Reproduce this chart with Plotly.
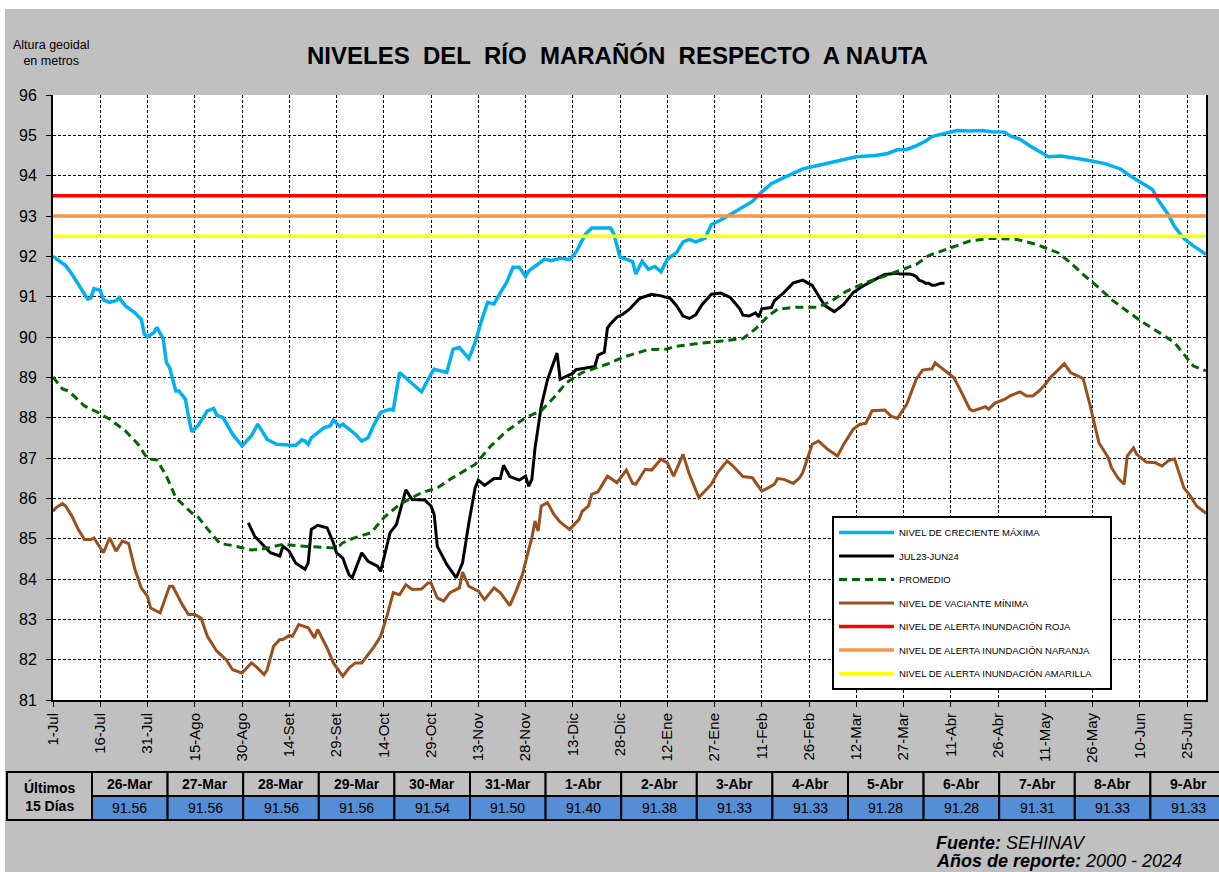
import plotly.graph_objects as go

# ---------------- DATA ----------------
# x = days since 1-Jul-2023 (day 0) ; y = altura geoidal (m)
etiquetas_x = ["1-Jul", "16-Jul", "31-Jul", "15-Ago", "30-Ago", "14-Set", "29-Set", "14-Oct",
               "29-Oct", "13-Nov", "28-Nov", "13-Dic", "28-Dic", "12-Ene", "27-Ene", "11-Feb",
               "26-Feb", "12-Mar", "27-Mar", "11-Abr", "26-Abr", "11-May", "26-May", "10-Jun", "25-Jun"]
posiciones_x = [15 * i for i in range(len(etiquetas_x))]

dias_max = [0, 4, 6, 9, 11, 12, 13, 15, 16, 18, 20, 21, 23, 26, 28, 29, 30, 32, 33, 35, 36, 37, 39, 40,
            42, 43, 44, 46, 47, 49, 51, 52, 54, 57, 60, 63, 65, 68, 71, 77, 79, 80, 81, 82, 86, 88, 89,
            91, 92, 94, 96, 98, 100, 102, 104, 107, 108, 110, 113, 117, 120, 121, 125, 127, 129, 132,
            134, 136, 138, 140, 142, 144, 146, 148, 150, 151, 154, 156, 158, 161, 164, 166, 167, 169,
            171, 177, 178, 180, 184, 185, 187, 189, 191, 193, 195, 198, 200, 202, 204, 207, 209, 212,
            215, 218, 222, 225, 228, 232, 235, 238, 242, 247, 250, 255, 261, 265, 268, 271, 274, 277,
            279, 283, 287, 291, 295, 298, 302, 304, 307, 310, 313, 316, 320, 324, 328, 334, 339, 342,
            345, 349, 351, 354, 356, 359, 362, 366]
nivel_max = [92.00, 91.77, 91.56, 91.19, 90.94, 90.97, 91.20, 91.16, 90.92, 90.86, 90.90, 90.97, 90.77,
             90.60, 90.44, 90.07, 90.00, 90.11, 90.24, 89.95, 89.37, 89.24, 88.66, 88.66, 88.46, 88.04,
             87.65, 87.80, 87.92, 88.17, 88.23, 88.06, 88.00, 87.59, 87.30, 87.55, 87.84, 87.46, 87.34,
             87.31, 87.45, 87.42, 87.34, 87.50, 87.75, 87.80, 87.94, 87.78, 87.84, 87.71, 87.59, 87.42,
             87.50, 87.84, 88.13, 88.21, 88.19, 89.12, 88.91, 88.64, 89.08, 89.20, 89.12, 89.70, 89.74,
             89.47, 89.86, 90.40, 90.86, 90.82, 91.10, 91.35, 91.73, 91.73, 91.50, 91.64, 91.81, 91.93,
             91.89, 91.95, 91.92, 92.10, 92.25, 92.55, 92.70, 92.70, 92.56, 91.98, 91.87, 91.56, 91.88,
             91.68, 91.75, 91.62, 91.93, 92.10, 92.36, 92.42, 92.36, 92.45, 92.79, 92.90, 93.04, 93.18,
             93.36, 93.60, 93.80, 93.95, 94.06, 94.17, 94.24, 94.32, 94.39, 94.47, 94.50, 94.55, 94.64,
             94.65, 94.74, 94.86, 94.97, 95.05, 95.12, 95.11, 95.12, 95.09, 95.08, 94.98, 94.90, 94.74,
             94.61, 94.47, 94.49, 94.45, 94.39, 94.30, 94.16, 93.99, 93.84, 93.66, 93.37, 93.04, 92.74,
             92.44, 92.26, 92.05]

dias_actual = [62, 64, 66, 69, 72, 73, 75, 77, 80, 81, 82, 84, 87, 89, 90, 92, 93, 94, 95, 98, 100, 103,
               104, 107, 109, 112, 114, 118, 120, 121, 122, 125, 128, 130, 132, 134, 135, 137, 140, 142,
               143, 145, 148, 150, 151, 152, 153, 155, 157, 160, 161, 163, 165, 166, 172, 173, 175, 176,
               177, 179, 181, 183, 186, 187, 190, 193, 196, 198, 200, 202, 204, 206, 209, 212, 215, 218,
               219, 221, 223, 224, 225, 228, 229, 232, 235, 238, 241, 244, 245, 248, 251, 254, 257, 261,
               264, 268]
nivel_actual = [85.39, 85.06, 84.90, 84.65, 84.57, 84.81, 84.69, 84.40, 84.24, 84.40, 85.23, 85.33, 85.27,
                84.90, 84.65, 84.52, 84.30, 84.10, 84.03, 84.65, 84.44, 84.32, 84.19, 85.15, 85.35, 86.21,
                85.97, 85.96, 85.81, 85.60, 84.81, 84.36, 84.03, 84.40, 85.39, 86.26, 86.45, 86.32, 86.49,
                86.49, 86.82, 86.54, 86.45, 86.55, 86.30, 86.47, 87.24, 88.29, 88.95, 89.60, 88.95, 89.02,
                89.10, 89.19, 89.27, 89.55, 89.62, 90.22, 90.33, 90.49, 90.57, 90.69, 90.94, 90.98, 91.06,
                91.02, 90.95, 90.77, 90.52, 90.46, 90.55, 90.80, 91.06, 91.09, 90.98, 90.70, 90.54, 90.52,
                90.60, 90.50, 90.70, 90.73, 90.90, 91.10, 91.34, 91.41, 91.28, 90.90, 90.78, 90.63, 90.81,
                91.10, 91.26, 91.43, 91.55, 91.58]

# Últimos 15 días (tabla)
fechas_ultimos = ["26-Mar", "27-Mar", "28-Mar", "29-Mar", "30-Mar", "31-Mar", "1-Abr", "2-Abr",
                  "3-Abr", "4-Abr", "5-Abr", "6-Abr", "7-Abr", "8-Abr", "9-Abr"]
dias_ultimos = [269, 270, 271, 272, 273, 274, 275, 276, 277, 278, 279, 280, 281, 282, 283]
valores_ultimos = [91.56, 91.56, 91.56, 91.56, 91.54, 91.50, 91.40, 91.38, 91.33, 91.33, 91.28,
                   91.28, 91.31, 91.33, 91.33]

dias_prom = [0, 3, 5, 10, 14, 18, 23, 27, 30, 33, 36, 39, 44, 46, 50, 53, 57, 60, 63, 67, 73, 80, 84,
             89, 91, 92, 95, 101, 105, 110, 117, 122, 126, 134, 139, 144, 150, 155, 159, 163, 168, 172,
             176, 181, 186, 189, 195, 197, 204, 212, 219, 223, 227, 230, 236, 243, 247, 252, 258, 264,
             270, 274, 278, 285, 291, 298, 306, 312, 319, 323, 327, 332, 336, 341, 346, 352, 356, 359,
             362, 366]
nivel_prom = [89.01, 88.71, 88.66, 88.29, 88.14, 87.96, 87.67, 87.34, 86.98, 86.95, 86.55, 86.01, 85.64,
              85.54, 85.15, 84.88, 84.83, 84.77, 84.72, 84.75, 84.86, 84.81, 84.80, 84.77, 84.83, 84.90,
              85.00, 85.15, 85.52, 85.85, 86.14, 86.26, 86.47, 86.84, 87.30, 87.67, 88.00, 88.17, 88.50,
              88.87, 89.12, 89.22, 89.33, 89.50, 89.63, 89.69, 89.70, 89.76, 89.83, 89.89, 89.96, 90.20,
              90.52, 90.69, 90.74, 90.74, 90.89, 91.14, 91.35, 91.51, 91.68, 91.80, 92.02, 92.21, 92.38,
              92.45, 92.42, 92.30, 92.09, 91.84, 91.55, 91.22, 90.93, 90.64, 90.36, 90.07, 89.86, 89.57,
              89.28, 89.16]

dias_min = [0, 1, 3, 4, 6, 8, 10, 12, 13, 16, 18, 20, 22, 24, 26, 28, 30, 31, 34, 37, 38, 40, 41, 43,
            45, 47, 49, 52, 55, 57, 60, 63, 65, 67, 68, 70, 72, 73, 75, 76, 78, 81, 83, 84, 87, 89, 92,
            94, 96, 98, 100, 102, 104, 106, 108, 110, 112, 114, 117, 119, 120, 122, 124, 126, 129, 130,
            132, 135, 137, 140, 142, 145, 147, 149, 151, 152, 153, 154, 155, 157, 159, 161, 164, 167,
            168, 170, 171, 173, 176, 179, 182, 184, 185, 188, 190, 193, 195, 197, 200, 202, 205, 209,
            211, 214, 216, 219, 222, 225, 227, 229, 230, 232, 235, 237, 238, 241, 243, 246, 249, 251,
            254, 256, 258, 260, 264, 266, 268, 271, 272, 274, 276, 279, 280, 282, 286, 288, 289, 291,
            292, 296, 297, 299, 302, 304, 307, 309, 311, 313, 315, 317, 319, 321, 323, 325, 327, 329,
            331, 332, 334, 335, 336, 338, 340, 341, 343, 344, 347, 350, 352, 354, 356, 357, 359, 361,
            363, 366]
nivel_min = [85.68, 85.77, 85.87, 85.81, 85.56, 85.23, 84.98, 84.98, 85.02, 84.65, 85.02, 84.69, 84.94,
             84.88, 84.24, 83.78, 83.57, 83.28, 83.16, 83.82, 83.82, 83.53, 83.37, 83.12, 83.12, 83.03,
             82.58, 82.21, 82.00, 81.75, 81.67, 81.92, 81.79, 81.63, 81.75, 82.33, 82.50, 82.50, 82.60,
             82.58, 82.87, 82.79, 82.54, 82.75, 82.29, 81.92, 81.59, 81.80, 81.92, 81.92, 82.12, 82.33,
             82.58, 83.08, 83.66, 83.61, 83.86, 83.74, 83.75, 83.90, 83.90, 83.53, 83.45, 83.66, 83.78,
             84.17, 83.82, 83.70, 83.49, 83.78, 83.66, 83.34, 83.70, 84.11, 84.73, 85.02, 85.44, 85.19,
             85.81, 85.89, 85.60, 85.41, 85.23, 85.48, 85.68, 85.81, 86.10, 86.16, 86.55, 86.39, 86.70,
             86.37, 86.35, 86.72, 86.70, 86.97, 86.88, 86.55, 87.09, 86.60, 86.02, 86.35, 86.64, 86.93,
             86.79, 86.54, 86.51, 86.18, 86.26, 86.35, 86.49, 86.47, 86.37, 86.51, 86.64, 87.34, 87.42,
             87.21, 87.05, 87.34, 87.71, 87.83, 87.86, 88.17, 88.19, 88.04, 87.98, 88.33, 88.54, 88.95,
             89.18, 89.21, 89.36, 89.24, 88.99, 88.69, 88.54, 88.21, 88.17, 88.27, 88.21, 88.36, 88.45,
             88.55, 88.64, 88.54, 88.54, 88.66, 88.83, 89.03, 89.18, 89.34, 89.12, 89.05, 88.97, 88.37,
             87.71, 87.38, 87.13, 87.00, 86.76, 86.51, 86.35, 87.05, 87.25, 87.09, 86.90, 86.88, 86.80,
             86.93, 86.98, 86.72, 86.26, 86.06, 85.81, 85.63]

alerta_roja = 93.5
alerta_naranja = 93.0
alerta_amarilla = 92.5
rango_x = [0, 366]

# ---------------- FIGURE ----------------
W, H = 1219, 872
ML, MR, MT, MB = 53, 13, 95, 172
PW, PH = W - ML - MR, H - MT - MB
FONT = "Liberation Sans, Arial, sans-serif"


def fx(p):
    return (p - ML) / PW


def fy(p):
    return (H - MB - p) / PH


fig = go.Figure()

NB = "\u00a0"
series = [
    ("NIVEL DE CRECIENTE MÁXIMA", dias_max, nivel_max, "#00B0F0", 3.5, "solid"),
    ("JUL23-JUN24", dias_actual + dias_ultimos, nivel_actual + valores_ultimos, "#000000", 3, "solid"),
    ("PROMEDIO", dias_prom, nivel_prom, "#006600", 3, "8px,5px"),
    ("NIVEL DE VACIANTE MÍNIMA", dias_min, nivel_min, "#9A4F1F", 3, "solid"),
    ("NIVEL DE ALERTA INUNDACIÓN ROJA", rango_x, [alerta_roja] * 2, "#FF0000", 3.5, "solid"),
    ("NIVEL DE ALERTA INUNDACIÓN NARANJA", rango_x, [alerta_naranja] * 2, "#F79646", 3.5, "solid"),
    ("NIVEL DE ALERTA INUNDACIÓN AMARILLA", rango_x, [alerta_amarilla] * 2, "#FFFF00", 3.5, "solid"),
]
for i, (name, xs, ys, col, w, dash) in enumerate(series):
    label = name + NB * 5 if i == len(series) - 1 else name
    fig.add_trace(go.Scatter(x=xs, y=ys, mode="lines", name=label, legendgroup=f"g{i}",
                             line=dict(color=col, width=w, dash=dash)))

shapes = []
annotations = []

# white strips at the top and left of the picture
shapes.append(dict(type="rect", xref="paper", yref="paper", x0=fx(0), x1=fx(W), y0=fy(0), y1=fy(9),
                   fillcolor="white", line=dict(width=0), layer="above"))
shapes.append(dict(type="rect", xref="paper", yref="paper", x0=fx(0), x1=fx(5), y0=fy(0), y1=fy(H),
                   fillcolor="white", line=dict(width=0), layer="above"))

# title & axis label
annotations.append(dict(text="<b>NIVELES  DEL  RÍO  MARAÑÓN  RESPECTO  A NAUTA</b>", xref="paper", yref="paper",
                        x=fx(617), y=fy(56), xanchor="center", yanchor="middle", showarrow=False,
                        font=dict(family=FONT, size=24, color="black")))
annotations.append(dict(text="Altura geoidal<br>en metros", xref="paper", yref="paper",
                        x=fx(51), y=fy(53), xanchor="center", yanchor="middle", showarrow=False,
                        align="center", font=dict(family=FONT, size=12.5, color="black")))

# table of last 15 days
T0, T1, T2 = 772, 796, 820
XL0, XL1 = 7, 92
CW = 75.6
gray = "#C0C0C0"
blue = "#558ED5"
shapes.append(dict(type="rect", xref="paper", yref="paper", x0=fx(XL0), x1=fx(XL1), y0=fy(T2), y1=fy(T0),
                   fillcolor=gray, line=dict(color="black", width=2), layer="above"))
annotations.append(dict(text="<b>Últimos<br>15 Días</b>", xref="paper", yref="paper", x=fx((XL0 + XL1) / 2),
                        y=fy((T0 + T2) / 2), xanchor="center", yanchor="middle", showarrow=False,
                        align="center", font=dict(family=FONT, size=14, color="black")))
for i, (f, v) in enumerate(zip(fechas_ultimos, valores_ultimos)):
    a = XL1 + CW * i
    b = a + CW
    shapes.append(dict(type="rect", xref="paper", yref="paper", x0=fx(a), x1=fx(b), y0=fy(T1), y1=fy(T0),
                       fillcolor=gray, line=dict(color="black", width=2), layer="above"))
    shapes.append(dict(type="rect", xref="paper", yref="paper", x0=fx(a), x1=fx(b), y0=fy(T2), y1=fy(T1),
                       fillcolor=blue, line=dict(color="black", width=2), layer="above"))
    annotations.append(dict(text=f"<b>{f}</b>", xref="paper", yref="paper", x=fx((a + b) / 2),
                            y=fy((T0 + T1) / 2), xanchor="center", yanchor="middle", showarrow=False,
                            font=dict(family=FONT, size=14, color="black")))
    annotations.append(dict(text=f"{v:.2f}", xref="paper", yref="paper", x=fx((a + b) / 2),
                            y=fy((T1 + T2) / 2), xanchor="center", yanchor="middle", showarrow=False,
                            font=dict(family=FONT, size=14, color="black")))

# source
annotations.append(dict(text="<b><i>Fuente:</i></b><i> SEHINAV</i>", xref="paper", yref="paper",
                        x=fx(934), y=fy(843), xanchor="left", yanchor="middle", showarrow=False,
                        font=dict(family=FONT, size=18, color="black")))
annotations.append(dict(text="<b><i>Años de reporte:</i></b><i> 2000 - 2024</i>", xref="paper", yref="paper",
                        x=fx(934), y=fy(861), xanchor="left", yanchor="middle", showarrow=False,
                        font=dict(family=FONT, size=18, color="black")))

fig.update_layout(
    width=W, height=H,
    margin=dict(l=ML, r=MR, t=MT, b=MB, pad=0),
    paper_bgcolor=gray, plot_bgcolor="white",
    font=dict(family=FONT, color="black"),
    shapes=shapes, annotations=annotations,
    showlegend=True,
    legend=dict(x=fx(832), y=fy(516), xanchor="left", yanchor="top", bgcolor="white",
                bordercolor="black", borderwidth=2, font=dict(family=FONT, size=9.5, color="black"),
                tracegroupgap=4.5, itemwidth=55, traceorder="grouped"),
)
fig.update_xaxes(range=rango_x, tickmode="array", tickvals=posiciones_x, ticktext=etiquetas_x,
                 tickangle=-90, tickfont=dict(family=FONT, size=15, color="black"),
                 showgrid=True, gridcolor="black", gridwidth=1, griddash="3px,2px",
                 showline=True, linecolor="black", linewidth=2, ticks="outside", ticklen=5,
                 tickcolor="black", zeroline=False)
fig.update_yaxes(range=[81, 96], dtick=1, tick0=81, tickfont=dict(family=FONT, size=16, color="black"),
                 showgrid=True, gridcolor="black", gridwidth=1, griddash="3px,2px",
                 showline=True, mirror=True, linecolor="black", linewidth=2, ticks="outside", ticklen=5,
                 tickcolor="black", zeroline=False, ticklabelstandoff=6)

fig.write_html("out.html", config={"displayModeBar": False},
               post_script="document.body.style.margin='0';document.body.style.overflow='hidden';")
